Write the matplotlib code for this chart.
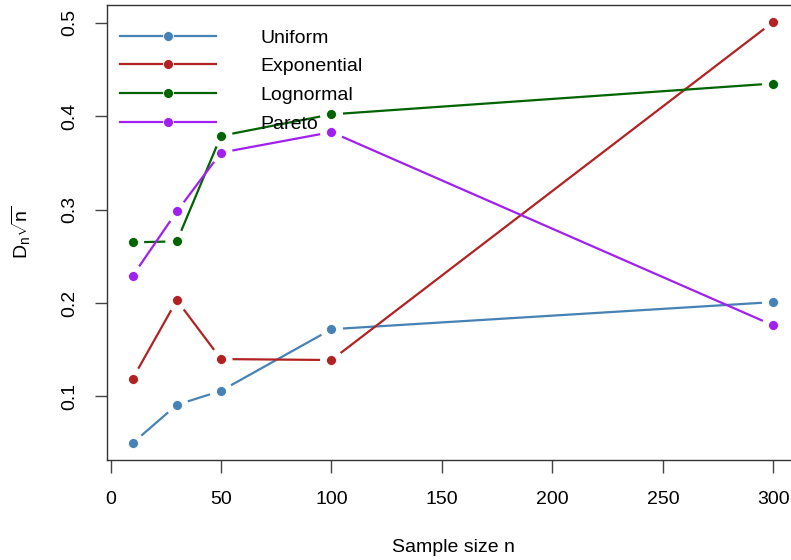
import numpy as np
import matplotlib
matplotlib.use("Agg")
import matplotlib.pyplot as plt
from matplotlib.lines import Line2D

plt.rcParams['font.family'] = ['Liberation Sans', 'DejaVu Sans']
plt.rcParams['mathtext.fontset'] = 'custom'
plt.rcParams['mathtext.rm'] = 'Liberation Sans'
plt.rcParams['mathtext.it'] = 'Liberation Sans'

sample_sizes = [10, 30, 50, 100, 300]
uniform = [0.050, 0.091, 0.106, 0.172, 0.201]
exponential = [0.119, 0.203, 0.140, 0.139, 0.501]
lognormal = [0.265, 0.266, 0.379, 0.402, 0.435]
pareto = [0.229, 0.298, 0.361, 0.383, 0.176]
series_names = ["Uniform", "Exponential", "Lognormal", "Pareto"]
series_values = [uniform, exponential, lognormal, pareto]
colors = ["#4682B4", "#B22222", "#006400", "#A020F0"]
x_ticks = [0, 50, 100, 150, 200, 250, 300]
y_ticks = [0.1, 0.2, 0.3, 0.4, 0.5]

FS = 14
fig = plt.figure(figsize=(7.91, 5.60), dpi=100)
ax = fig.add_axes([107/791, 100/560, 692/791, 455/560])
xr = max(sample_sizes) - min(sample_sizes)
ax.set_xlim(min(sample_sizes) - 0.04*xr, max(sample_sizes) + 0.04*xr)
allv = np.concatenate([np.array(v) for v in series_values])
yr = allv.max() - allv.min()
ax.set_ylim(allv.min() - 0.04*yr, allv.max() + 0.04*yr)

GAP = 11.5
LW = 1.6
MS = 7.2

def gapped(x, y, color):
    pts = ax.transData.transform(np.column_stack([x, y]))
    inv = ax.transData.inverted()
    for p0, p1 in zip(pts[:-1], pts[1:]):
        d = p1 - p0
        L = np.hypot(*d)
        if L <= 2*GAP:
            continue
        u = d / L
        seg = inv.transform(np.array([p0 + u*GAP, p1 - u*GAP]))
        ax.plot(seg[:, 0], seg[:, 1], color=color, lw=LW, solid_capstyle='butt', zorder=2)
    ax.plot(x, y, 'o', color=color, ms=MS, mec='white', mew=0.6, zorder=3)

for vals, c in zip(series_values, colors):
    gapped(sample_sizes, vals, c)

ax.set_xticks(x_ticks)
ax.set_yticks(y_ticks)
ax.set_xticklabels([str(t) for t in x_ticks])
ax.set_yticklabels([f"{t:.1f}" for t in y_ticks], rotation=90, va='center')
ax.tick_params(axis='both', length=9, width=1.0, color='#444444', labelsize=FS,
               direction='out')
ax.tick_params(axis='x', pad=13)
ax.tick_params(axis='y', pad=12)
for s in ax.spines.values():
    s.set_color('#333333')
    s.set_linewidth(1.0)

ax.set_xlabel("Sample size n", fontsize=FS, labelpad=23)
ax.set_ylabel(r"$\mathregular{D_n\sqrt{n}}$", fontsize=FS, labelpad=20)

handles = [Line2D([0], [0], color=c, lw=LW, marker='o', ms=MS, mec='white', mew=0.6)
           for c in colors]
leg = ax.legend(handles, series_names, loc='upper left', bbox_to_anchor=(0.004, 0.971),
                frameon=False, fontsize=FS, handlelength=4.9, handletextpad=2.3,
                labelspacing=0.57, borderaxespad=0.0, borderpad=0.55)

fig.savefig("out.png", dpi=100)
